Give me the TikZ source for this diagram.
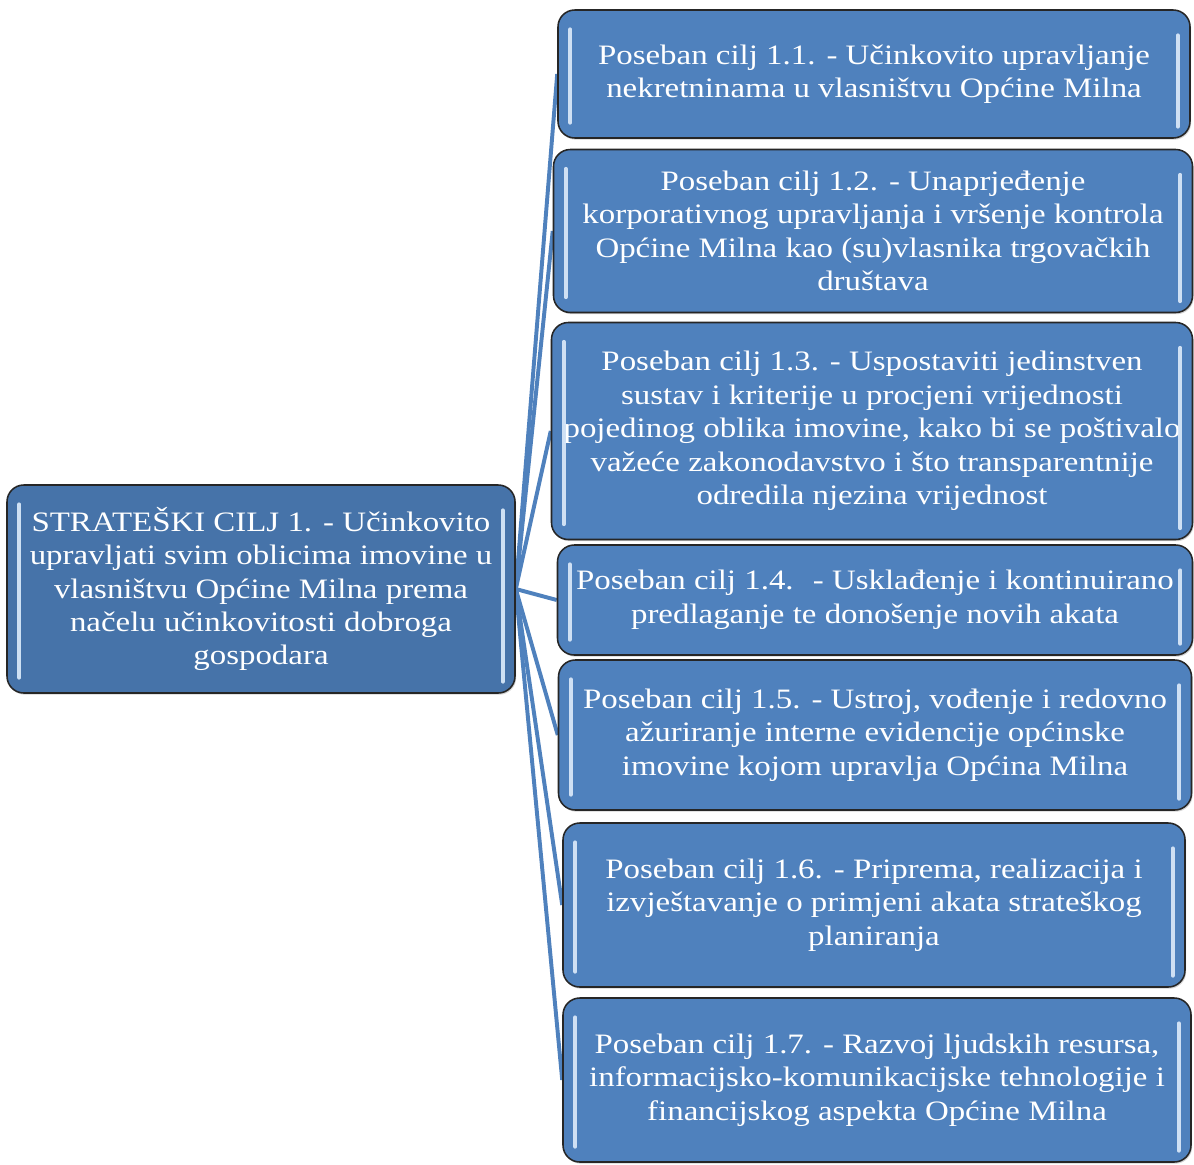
\documentclass[tikz,border=0pt]{standalone}
\usepackage{fontspec}
\setmainfont[FakeStretch=1.17]{Liberation Serif}
\usepackage{xcolor}
\usetikzlibrary{backgrounds, shadows}

\definecolor{goalblue}{HTML}{4F81BD}
\definecolor{mainblue}{HTML}{4673A9}
\definecolor{glint}{HTML}{D6E6F8}

\tikzset{
  goal/.style={draw=black!85, line width=1.1pt, fill=goalblue, rounded corners=0.42cm,
    text=white, align=center, inner sep=0pt,
    font=\fontsize{20}{23.8}\selectfont,
    drop shadow={opacity=0.35, shadow xshift=0.8pt, shadow yshift=-1.2pt}},
  maingoal/.style={goal, fill=mainblue},
  boxsize/.style 2 args={minimum width=#1*0.025cm, minimum height=#2*0.025cm},
  link/.style={draw=goalblue, line width=2.8pt},
  glintline/.style={draw=glint, line width=2.6pt, line cap=round, opacity=0.95}
}

\begin{document}
\begin{tikzpicture}[x=0.025cm, y=-0.025cm]
  \useasboundingbox (0,0) rectangle (1194,1164);

  % Strategic goal
  \node[maingoal, boxsize={508}{208}] (main) at (261, 589)
    {STRATEŠKI CILJ 1. - Učinkovito\\upravljati svim oblicima imovine u\\vlasništvu Općine Milna prema\\načelu učinkovitosti dobroga\\gospodara};

  % Specific goals
  \node[goal, boxsize={632}{128}] (c1) at (874, 74)
    {Poseban cilj 1.1. - Učinkovito upravljanje\\nekretninama u vlasništvu Općine Milna};
  \node[goal, boxsize={639}{163}] (c2) at (873, 231)
    {Poseban cilj 1.2. - Unaprjeđenje\\korporativnog upravljanja i vršenje kontrola\\Općine Milna kao (su)vlasnika trgovačkih\\društava};
  \node[goal, boxsize={641}{217}] (c3) at (872, 431)
    {Poseban cilj 1.3. - Uspostaviti jedinstven\\sustav i kriterije u procjeni vrijednosti\\pojedinog oblika imovine, kako bi se poštivalo\\važeće zakonodavstvo i što transparentnije\\odredila njezina vrijednost};
  \node[goal, boxsize={635}{110}] (c4) at (875, 600)
    {Poseban cilj 1.4.~ - Usklađenje i kontinuirano\\predlaganje te donošenje novih akata};
  \node[goal, boxsize={633}{150}] (c5) at (875, 735)
    {Poseban cilj 1.5. - Ustroj, vođenje i redovno\\ažuriranje interne evidencije općinske\\imovine kojom upravlja Općina Milna};
  \node[goal, boxsize={622}{164}] (c6) at (874, 905)
    {Poseban cilj 1.6. - Priprema, realizacija i\\izvještavanje o primjeni akata strateškog\\planiranja};
  \node[goal, boxsize={628}{164}] (c7) at (877, 1080)
    {Poseban cilj 1.7. - Razvoj ljudskih resursa,\\informacijsko-komunikacijske tehnologije i\\financijskog aspekta Općine Milna};

  % Bevel glints
  \foreach \n in {main, c1, c2, c3, c4, c5, c6, c7} {
    \draw[glintline] ([shift={(13,20)}]\n.north west) -- ([shift={(13,-16)}]\n.south west);
    \draw[glintline] ([shift={(-13,26)}]\n.north east) -- ([shift={(-13,-12)}]\n.south east);
  }

  % Connectors
  \begin{scope}[on background layer]
    \foreach \n in {c1, c2, c3, c4, c5, c6, c7}
      \draw[link] (main.east) -- (\n.west);
  \end{scope}
\end{tikzpicture}
\end{document}
